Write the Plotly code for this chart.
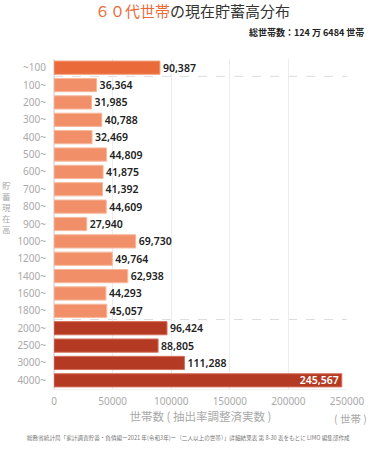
import plotly.graph_objects as go

categories = ["~100", "100~", "200~", "300~", "400~", "500~", "600~", "700~", "800~", "900~",
              "1000~", "1200~", "1400~", "1600~", "1800~", "2000~", "2500~", "3000~", "4000~"]
households = [90387, 36364, 31985, 40788, 32469, 44809, 41875, 41392, 44609, 27940,
              69730, 49764, 62938, 44293, 45057, 96424, 88805, 111288, 245567]
x_ticks = [0, 50000, 100000, 150000, 200000, 250000]

C_TOP = "#EB6A3A"
C_MID = "#F19068"
C_HIGH = "#B53A23"
colors = [C_TOP] + [C_MID] * 14 + [C_HIGH] * 4
line_colors = ["#F39A76"] + ["#F7B79C"] * 14 + ["#D5705C"] * 4
text_pos = ["outside"] * 18 + ["inside"]
text_col = ["#222222"] * 18 + ["#ffffff"]

FONT = "Noto Sans, Noto Sans CJK JP, sans-serif"
CJK = "Noto Sans CJK JP"
W, H = 375, 453
PL, PR, PT, PB = 54, 347, 59, 389  # plot area in page pixels
L, R, T, B = PL, W - PR, PT, H - PB
PH = PB - PT
PW = PR - PL


def py(pix):
    return (PB - pix) / PH


def px(pix):
    return (pix - PL) / PW


annotations = [
    dict(text="<span style='color:#EB6A3A'>６０代世帯</span>の現在貯蓄高分布",
         xref="paper", yref="paper", x=px(192), y=py(11), xanchor="center", yanchor="middle",
         showarrow=False, font=dict(size=15, color="#333333", family=CJK)),
    dict(text="<b>総世帯数：124 万 6484 世帯</b>",
         xref="paper", yref="paper", x=px(366), y=py(33), xanchor="right", yanchor="middle",
         showarrow=False, font=dict(size=9, color="#222222", family=CJK)),
    dict(text="( 世帯 )",
         xref="paper", yref="paper", x=px(350), y=py(418), xanchor="center", yanchor="middle",
         showarrow=False, font=dict(size=10.5, color="#aaaaaa", family=CJK)),
    dict(text="総務省統計局「家計調査貯蓄・負債編ー2021 年(令和3年)ー（二人以上の世帯）」詳細結果表 第 8-30 表をもとに LIMO 編集部作成",
         xref="paper", yref="paper", x=px(188), y=py(438), xanchor="center", yanchor="middle",
         showarrow=False, font=dict(size=5.6, color="#777777", family=CJK)),
    dict(text="<br>".join("貯蓄現在高"),
         xref="paper", yref="paper", x=px(6), y=py(207), xanchor="center", yanchor="middle",
         showarrow=False, font=dict(size=8.5, color="#aaaaaa", family=CJK)),
]

fig = go.Figure(go.Bar(
    x=households, y=categories, orientation="h",
    marker=dict(color=colors, line=dict(color=line_colors, width=1)),
    texttemplate="%{x:,}", textposition=text_pos,
    textfont=dict(color=text_col, size=10.5, family=FONT, weight=600),
    insidetextanchor="end", cliponaxis=False,
    hoverinfo="skip",
))

fig.update_layout(
    width=W, height=H,
    margin=dict(l=L, r=R, t=T, b=B, pad=0),
    paper_bgcolor="white", plot_bgcolor="white",
    bargap=0.24, showlegend=False,
    font=dict(family=FONT),
    uniformtext=dict(minsize=10, mode="show"),
    xaxis=dict(
        range=[0, 250000], tickvals=x_ticks, tickformat="d",
        showgrid=True, gridcolor="#ececec", gridwidth=1,
        zeroline=True, zerolinecolor="#e4e4e4",
        showline=True, linecolor="#eeeeee", mirror=False,
        tickfont=dict(color="#aaaaaa", size=10),
        title=dict(text="世帯数 ( 抽出率調整済実数 )", font=dict(color="#aaaaaa", size=11.5, family=CJK), standoff=4),
        ticks="outside", ticklen=3, tickcolor="white", fixedrange=True, automargin=False,
    ),
    yaxis=dict(
        autorange="reversed", categoryorder="array", categoryarray=categories,
        tickfont=dict(color="#aaaaaa", size=10), ticks="outside", ticklen=5, tickcolor="white",
        showgrid=False, fixedrange=True, automargin=False,
    ),
    shapes=[
        dict(type="line", xref="x domain", yref="y", x0=0, x1=1, y0=0.5, y1=0.5,
             line=dict(color="#dddddd", width=1, dash="dash"), layer="below"),
        dict(type="line", xref="x domain", yref="y", x0=0, x1=1, y0=14.5, y1=14.5,
             line=dict(color="#dddddd", width=1, dash="dash"), layer="below"),
    ],
    annotations=annotations,
)

fig.write_html("out.html", config={"displayModeBar": False},
               post_script="document.body.style.margin='0';")
